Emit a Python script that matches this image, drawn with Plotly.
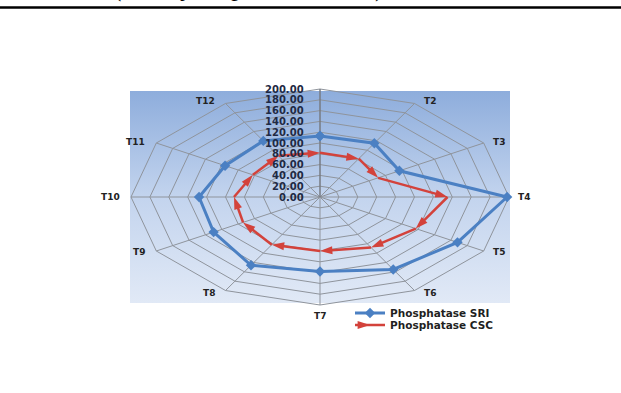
import math
import plotly.graph_objects as go

# Treatments around the web (T1 at the top, clockwise)
categories = ["T1", "T2", "T3", "T4", "T5", "T6", "T7", "T8", "T9", "T10", "T11", "T12"]
phosphatase_sri = [113, 115, 97, 198, 168, 155, 138, 146, 130, 128, 116, 120]
phosphatase_csc = [82, 82, 71, 135, 117, 108, 100, 102, 94, 91, 82, 88]
ring_values = [20, 40, 60, 80, 100, 120, 140, 160, 180, 200]
tick_values = [0, 20, 40, 60, 80, 100, 120, 140, 160, 180, 200]

W, H = 621, 393
CX, CY = 320, 197          # centre of the web in pixels
SX, SY = 0.945, 0.54       # pixels per unit, horizontally / vertically
RMAX = 200

n = len(categories)
angles = [2 * math.pi * k / n for k in range(n)]


def to_xy(values):
    xs = [v * math.sin(a) for v, a in zip(values, angles)]
    ys = [v * math.cos(a) for v, a in zip(values, angles)]
    return xs + xs[:1], ys + ys[:1]


fig = go.Figure()

# plot-area background with a vertical blue gradient
bx0, bx1 = (130 - CX) / SX, (510 - CX) / SX
by0, by1 = (CY - 303) / SY, (CY - 91) / SY
fig.add_trace(go.Scatter(
    x=[bx0, bx1, bx1, bx0, bx0], y=[by0, by0, by1, by1, by0],
    mode="lines", line=dict(width=0), fill="toself",
    fillgradient=dict(type="vertical",
                      colorscale=[[0, "#e1e9f6"], [0.5, "#c3d4ee"], [1, "#8eaddc"]]),
    hoverinfo="skip", showlegend=False))

# concentric 12-sided rings
gx, gy = [], []
for r in ring_values:
    xs, ys = to_xy([r] * n)
    gx += xs + [None]
    gy += ys + [None]
fig.add_trace(go.Scatter(x=gx, y=gy, mode="lines",
                         line=dict(color="#8f949c", width=1),
                         hoverinfo="skip", showlegend=False))

# spokes
sx_, sy_ = [], []
for a in angles:
    sx_ += [0, RMAX * math.sin(a), None]
    sy_ += [0, RMAX * math.cos(a), None]
fig.add_trace(go.Scatter(x=sx_, y=sy_, mode="lines",
                         line=dict(color="#8f949c", width=1),
                         hoverinfo="skip", showlegend=False))
# value axis
fig.add_trace(go.Scatter(x=[0, 0], y=[0, RMAX], mode="lines",
                         line=dict(color="#6b6f76", width=1),
                         hoverinfo="skip", showlegend=False))

xs, ys = to_xy(phosphatase_sri)
fig.add_trace(go.Scatter(
    x=xs, y=ys, mode="lines+markers", name="Phosphatase SRI", legend="legend",
    line=dict(color="#4b80c3", width=3),
    marker=dict(symbol="diamond", size=8, color="#4b80c3")))

xs, ys = to_xy(phosphatase_csc)
fig.add_trace(go.Scatter(
    x=xs, y=ys, mode="lines+markers", name="Phosphatase CSC", legend="legend2",
    line=dict(color="#d3423b", width=2.5),
    marker=dict(symbol="arrow", angleref="previous", size=13, color="#d3423b")))

annotations = []
for v in tick_values:
    annotations.append(dict(x=0, y=v, xref="x", yref="y", text=f"{v:.2f}",
                            showarrow=False, xanchor="right", yanchor="middle",
                            xshift=-14,
                            font=dict(family="DejaVu Sans", size=10, color="#1f2a44",
                                      weight="bold")))

# category labels just outside the outer ring
for cat, a in zip(categories[1:], angles[1:]):
    s, c = math.sin(a), math.cos(a)
    if abs(s) < 1e-9:
        xa, xs_, ya, ys_ = "center", 0, "top", -4
    elif s > 0:
        xa, xs_, ya, ys_ = "left", 7, "middle", 2.5 * round(c, 3) / 0.866 if abs(c) > 0.1 else 0
    else:
        xa, xs_, ya, ys_ = "right", -9, "middle", 2.5 * round(c, 3) / 0.866 if abs(c) > 0.1 else 0
    annotations.append(dict(x=RMAX * s, y=RMAX * c, xref="x", yref="y", text=cat,
                            showarrow=False, xanchor=xa, yanchor=ya,
                            xshift=xs_, yshift=ys_,
                            font=dict(family="DejaVu Sans", size=9, color="#222222",
                                      weight="bold")))

# tail of the caption above the rule
annotations.append(dict(x=385 / W, y=1 - 3 / H, xref="paper", yref="paper",
                        text="at harvest (three year pooled values)", showarrow=False,
                        xanchor="right", yanchor="bottom", borderpad=0,
                        font=dict(family="Liberation Serif", size=26, color="#000000")))

legend_font = dict(family="DejaVu Sans", size=10.5, color="#1f1f1f", weight="bold")
fig.update_layout(
    width=W, height=H,
    margin=dict(l=0, r=0, t=0, b=0),
    paper_bgcolor="white", plot_bgcolor="white",
    xaxis=dict(range=[(0 - CX) / SX, (W - CX) / SX], visible=False, fixedrange=True),
    yaxis=dict(range=[(CY - H) / SY, CY / SY], visible=False, fixedrange=True),
    showlegend=True,
    legend=dict(x=350 / W, y=1 - 313 / H, xanchor="left", yanchor="middle",
                bgcolor="rgba(0,0,0,0)", itemwidth=30, font=legend_font),
    legend2=dict(x=350 / W, y=1 - 325 / H, xanchor="left", yanchor="middle",
                 bgcolor="rgba(0,0,0,0)", itemwidth=30, font=legend_font),
    annotations=annotations,
    shapes=[dict(type="line", xref="paper", yref="paper",
                 x0=0, x1=1, y0=1 - 7.5 / H, y1=1 - 7.5 / H,
                 line=dict(color="black", width=2.5))],
)

fig.write_html("out.html")
